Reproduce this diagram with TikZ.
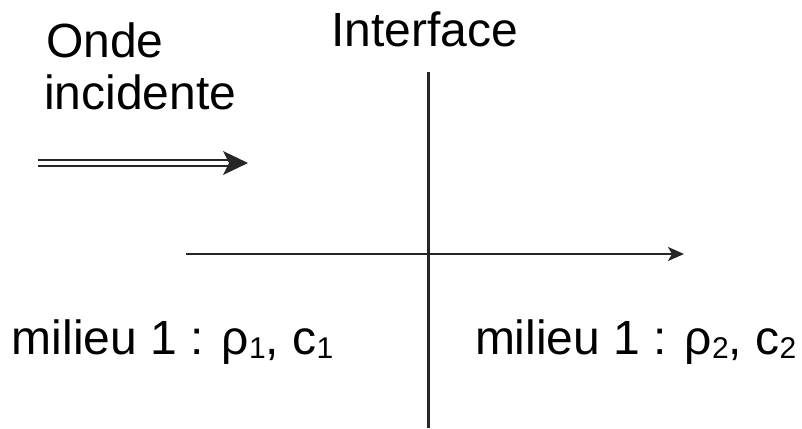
\documentclass[tikz,border=0pt]{standalone}
\usepackage{fontspec}
\setmainfont{Liberation Sans}
\usetikzlibrary{arrows.meta}
\newcommand{\mysub}[1]{{\fontsize{30pt}{30pt}\selectfont\raisebox{-3pt}{#1}}}
\begin{document}
\begin{tikzpicture}[x=1pt,y=1pt,
  lbl/.style={anchor=base west,inner sep=0pt,outer sep=0pt,font=\fontsize{48pt}{52pt}\selectfont},
  axis/.style={line width=2pt,draw=black!85,-{Stealth[length=16pt,width=14pt,inset=4pt]}}]
\useasboundingbox (0,0) rectangle (802,428);
% interface line
\coordinate (vt) at (428,356);
\coordinate (vb) at (428,0);
\draw[line width=3pt,black!85] (vt) -- (vb);
% horizontal axis
\coordinate (hs) at (186,174);
\coordinate (he) at (684,174);
\draw[axis] (hs) -- (he);
% double arrow
\coordinate (ds) at (38,265);
\coordinate (de) at (248,265);
\draw[line width=2pt,black!85] (38,268) -- (236,268);
\draw[line width=2pt,black!85] (38,262) -- (236,262);
\fill[black!85] (de) -- (223,277) -- (229,265) -- (223,253) -- cycle;
% labels
\node[lbl] (onde) at (46,370) {Onde};
\node[lbl] (inc) at (44,318) {incidente};
\node[lbl] (intf) at (331,381) {Interface};
\node[lbl] (m1) at (12,73) {milieu 1 : ρ\mysub{1}, c\mysub{1}};
\node[lbl] (m2) at (475,73) {milieu 1 : ρ\mysub{2}, c\mysub{2}};
\end{tikzpicture}
\end{document}
